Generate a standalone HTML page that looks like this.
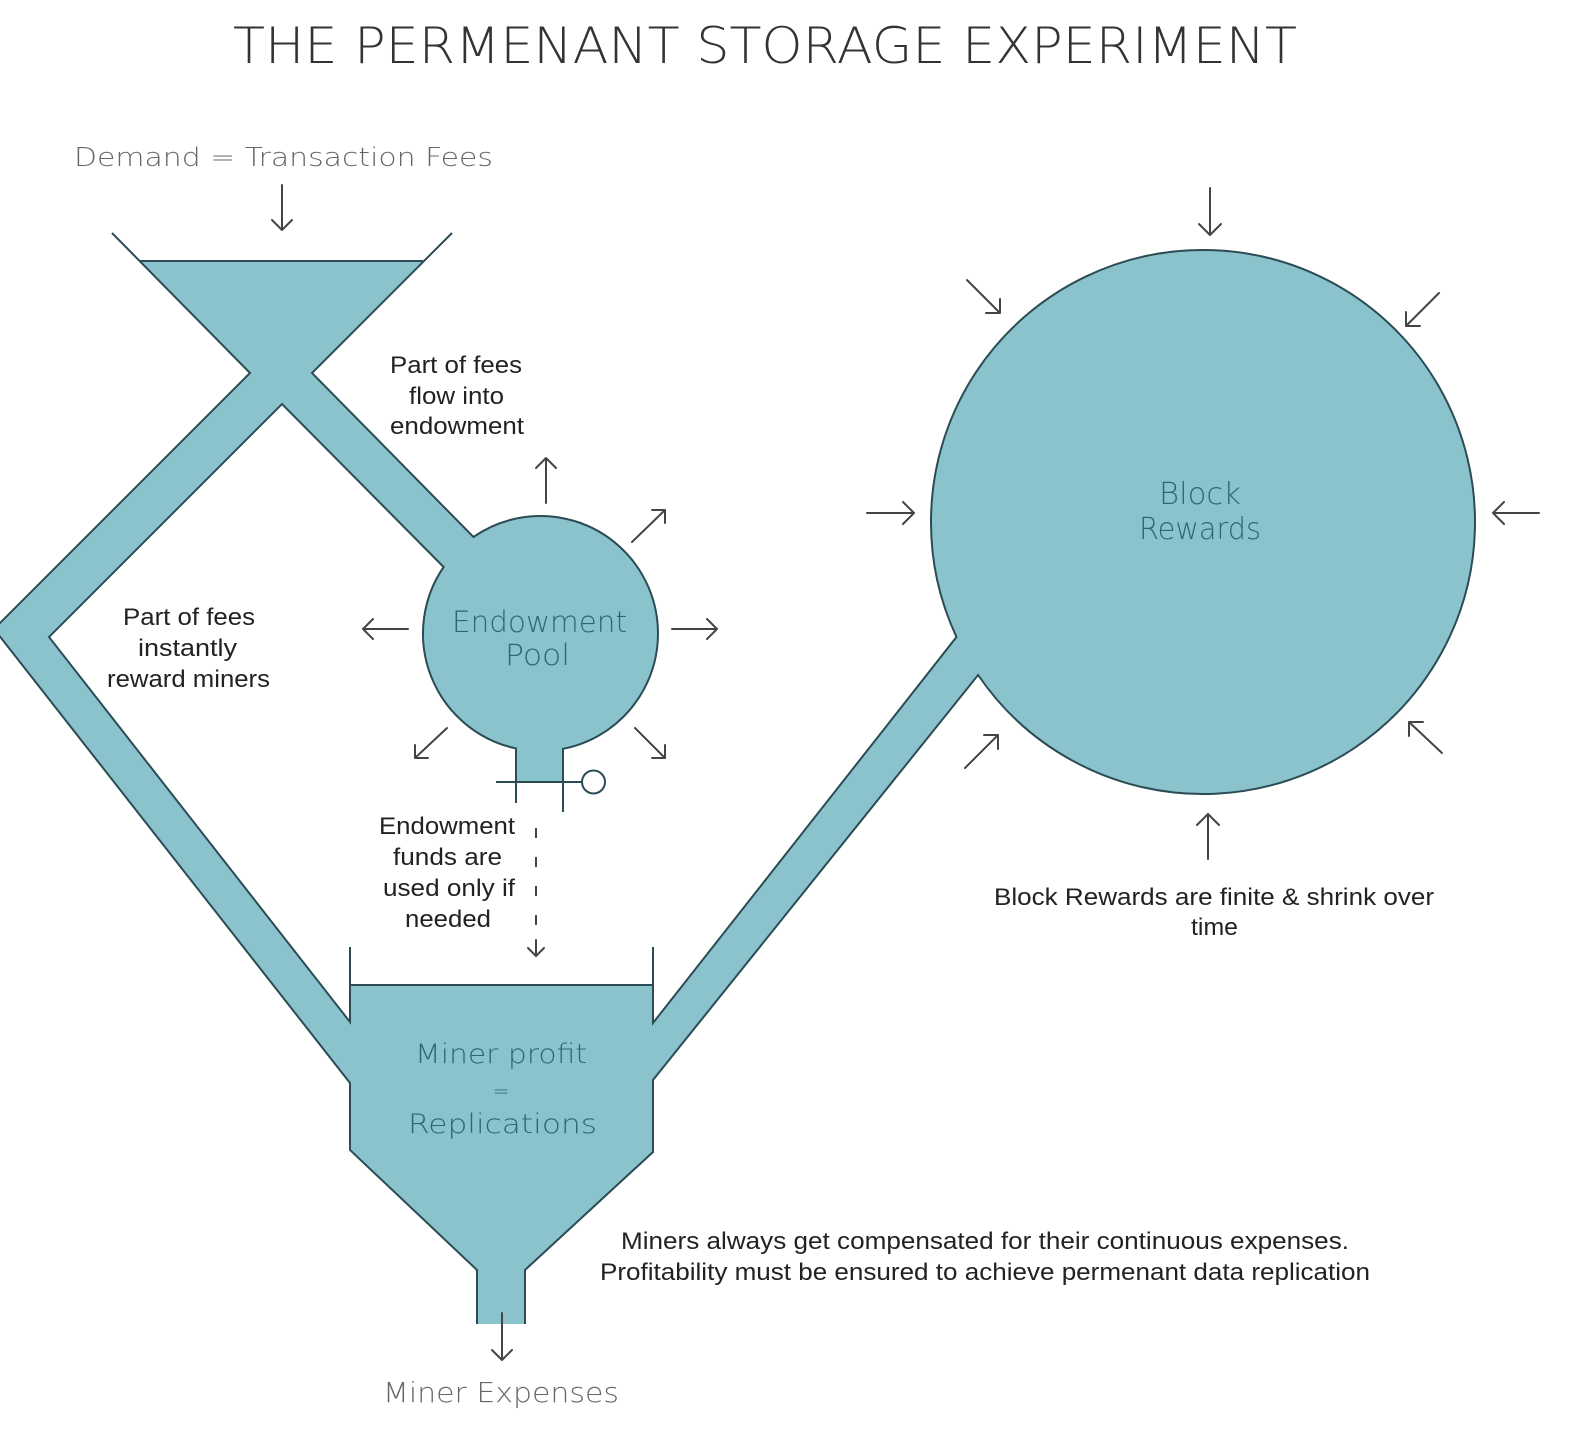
<!DOCTYPE html>
<html><head><meta charset="utf-8"><style>
html,body{margin:0;padding:0;background:#fff;}
svg{display:block;}
.geo{font-family:"DejaVu Sans ExtraLight","DejaVu Sans","Liberation Sans",sans-serif;font-weight:200;}
.hel{font-family:"Liberation Sans",Arial,sans-serif;fill:#222;font-size:24px;}
</style></head><body>
<svg width="1586" height="1436" viewBox="0 0 1586 1436" xmlns="http://www.w3.org/2000/svg">
<rect width="1586" height="1436" fill="#fff"/>
<!-- fills -->
<g fill="#8bc3cd" stroke="none">
  <polygon points="140,261 423,261 312,373 500,565 470,595 282,404 49,637 360,1035 360,1096 -6,629 250,373"/>
  <circle cx="540.5" cy="633.5" r="117.5"/>
  <rect x="516" y="735" width="47" height="47"/>
  <polygon points="350,985 653,985 653,1152 525,1270 525,1324 477,1324 477,1270 350,1150"/>
  <polygon points="640,1040 970,618 990,659 640,1096"/>
  <circle cx="1203" cy="522" r="272"/>
</g>
<!-- outlines -->
<g fill="none" stroke="#2b4c55" stroke-width="2" stroke-linejoin="miter">
  <path d="M112 233 L250 373 L-6 629 L350 1083 L350 1150 L477 1270 L477 1324"/>
  <path d="M140 261 H423"/>
  <path d="M452 233 L312 373 L473.46 537 A117.5 117.5 0 1 1 563 748.83 L563 812"/>
  <path d="M516 803 L516 748.42 A117.5 117.5 0 0 1 443.63 567 L282 404 L49 637 L350 1022 L350 947"/>
  <path d="M496 782 H582"/>
  <circle cx="593.5" cy="782" r="11.5" fill="#fff"/>
  <path d="M350 985 H653"/>
  <path d="M653 947 L653 1023 L956.5 637 A272 272 0 1 1 978.1 675 L653 1080 L653 1152 L525 1270 L525 1324"/>
</g>
<!-- arrows -->
<g fill="none" stroke="#444" stroke-width="2" stroke-linecap="round" stroke-linejoin="round">
  <path d="M282 185 V230 M272 220 L282 230 L292 220"/>
  <path d="M546 503 V458 M536 468 L546 458 L556 468"/>
  <path d="M632 542 L665 510 M652 510 L665 510 L665 523"/>
  <path d="M408 629 H363 M373 619 L363 629 L373 639"/>
  <path d="M672 629 H717 M707 619 L717 629 L707 639"/>
  <path d="M447 728 L415 758 M428 758 L415 758 L415 745"/>
  <path d="M635 728 L665 758 M652 758 L665 758 L665 745"/>
  <path d="M1210 188 V235 M1199 224 L1210 235 L1221 224"/>
  <path d="M867 513 H914 M903 502 L914 513 L903 524"/>
  <path d="M1539 513 H1493 M1504 502 L1493 513 L1504 524"/>
  <path d="M967 280 L1000 313 M986 313 L1000 313 L1000 299"/>
  <path d="M1439 293 L1406 326 M1420 326 L1406 326 L1406 312"/>
  <path d="M965 768 L998 735 M984 735 L998 735 L998 749"/>
  <path d="M1442 753 L1409 722 M1423 722 L1409 722 L1409 736"/>
  <path d="M1208 859 V814 M1197 825 L1208 814 L1219 825"/>
  <path d="M536 828 V932" stroke-dasharray="10 19" stroke-linecap="butt"/>
  <path d="M536 940 V956 M528 948 L536 956 L544 948"/>
  <path d="M502 1313 V1360 M492 1350 L502 1360 L512 1350"/>
</g>
<!-- geometric labels -->
<g class="geo">
  <text x="233" y="63" font-size="50" fill="#333" textLength="1064" lengthAdjust="spacingAndGlyphs">THE PERMENANT STORAGE EXPERIMENT</text>
  <text x="74" y="166" font-size="26" fill="#666" textLength="419" lengthAdjust="spacingAndGlyphs">Demand = Transaction Fees</text>
  <text x="452" y="632" font-size="29" fill="#2f6674" textLength="175" lengthAdjust="spacingAndGlyphs">Endowment</text>
  <text x="505" y="665" font-size="29" fill="#2f6674" textLength="65" lengthAdjust="spacingAndGlyphs">Pool</text>
  <text x="1159" y="504" font-size="30" fill="#2f6674" textLength="82" lengthAdjust="spacingAndGlyphs">Block</text>
  <text x="1139" y="539" font-size="30" fill="#2f6674" textLength="122" lengthAdjust="spacingAndGlyphs">Rewards</text>
  <text x="415" y="1063" font-size="27" fill="#2f6674" textLength="172" lengthAdjust="spacingAndGlyphs">Miner profit</text>
  <text x="501" y="1098" font-size="20" fill="#2f6674" text-anchor="middle">=</text>
  <text x="408" y="1133" font-size="27" fill="#2f6674" textLength="189" lengthAdjust="spacingAndGlyphs">Replications</text>
  <text x="383" y="1402" font-size="28" fill="#666" textLength="236" lengthAdjust="spacingAndGlyphs">Miner Expenses</text>
</g>
<!-- helvetica labels -->
<g class="hel">
  <text x="390" y="373" textLength="132" lengthAdjust="spacingAndGlyphs">Part of fees</text>
  <text x="409" y="404" textLength="95" lengthAdjust="spacingAndGlyphs">flow into</text>
  <text x="390" y="434" textLength="134" lengthAdjust="spacingAndGlyphs">endowment</text>

  <text x="123" y="625" textLength="132" lengthAdjust="spacingAndGlyphs">Part of fees</text>
  <text x="138" y="656" textLength="99" lengthAdjust="spacingAndGlyphs">instantly</text>
  <text x="107" y="687" textLength="163" lengthAdjust="spacingAndGlyphs">reward miners</text>

  <text x="379" y="834" textLength="136" lengthAdjust="spacingAndGlyphs">Endowment</text>
  <text x="393" y="865" textLength="109" lengthAdjust="spacingAndGlyphs">funds are</text>
  <text x="383" y="896" textLength="132" lengthAdjust="spacingAndGlyphs">used only if</text>
  <text x="405" y="927" textLength="86" lengthAdjust="spacingAndGlyphs">needed</text>

  <text x="994" y="905" textLength="440" lengthAdjust="spacingAndGlyphs">Block Rewards are finite &amp; shrink over</text>
  <text x="1191" y="935" textLength="47" lengthAdjust="spacingAndGlyphs">time</text>

  <text x="621" y="1249" textLength="728" lengthAdjust="spacingAndGlyphs">Miners always get compensated for their continuous expenses.</text>
  <text x="600" y="1280" textLength="770" lengthAdjust="spacingAndGlyphs">Profitability must be ensured to achieve permenant data replication</text>
</g>
</svg>
</body></html>
